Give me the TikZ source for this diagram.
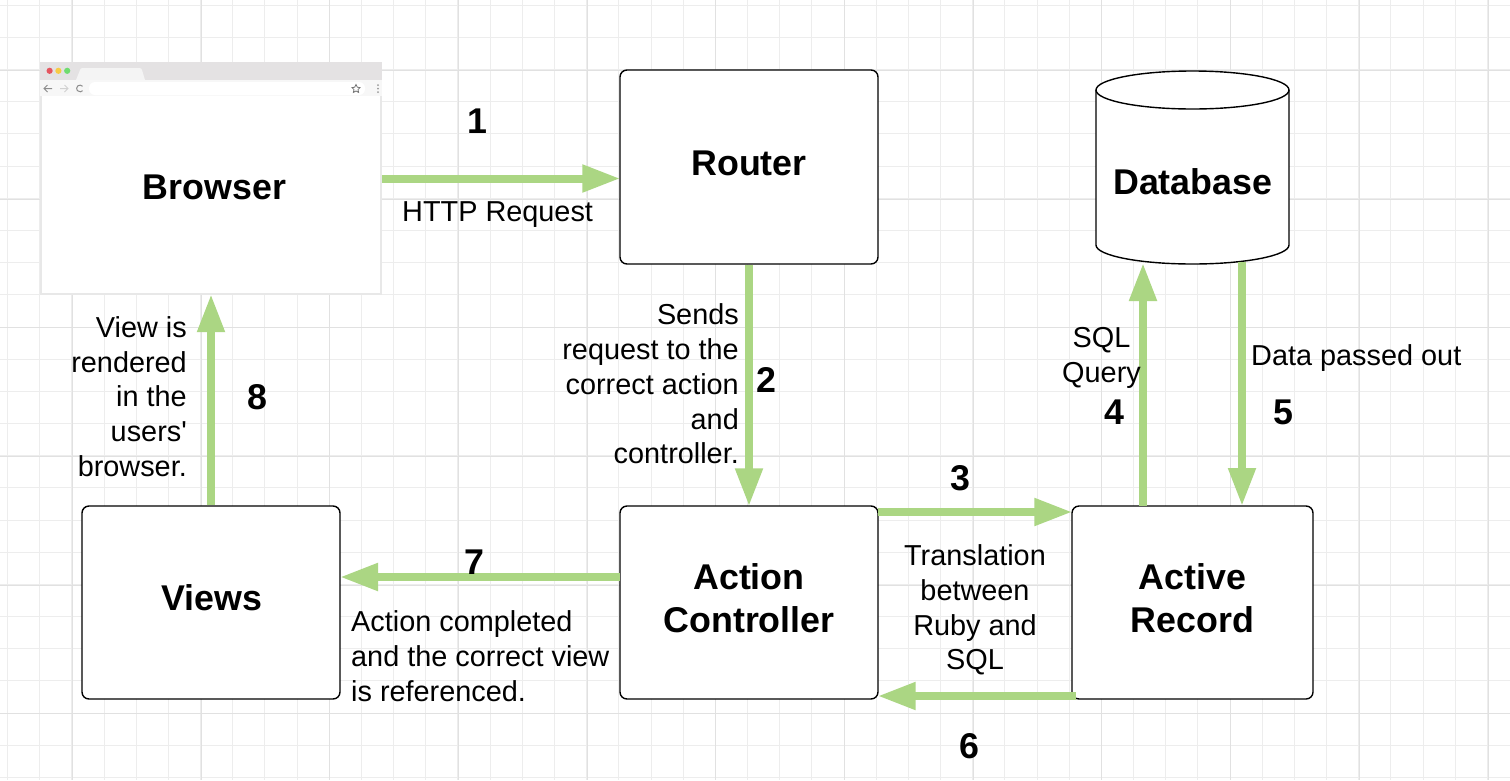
\documentclass[tikz,border=0pt]{standalone}
\usepackage{fontspec}
\setmainfont{Liberation Sans}
\newfontfamily\plainfam{Liberation Sans}
\usetikzlibrary{arrows.meta}
\definecolor{flowgreen}{HTML}{ABD683}
\definecolor{gridminor}{HTML}{EDEDED}
\definecolor{gridmajor}{HTML}{E1E1E1}
\definecolor{barcol}{HTML}{E4E2E3}
\definecolor{tabcol}{HTML}{F4F4F4}
\definecolor{toolcol}{HTML}{F7F7F7}
\definecolor{dotred}{HTML}{E5555F}
\definecolor{dotyel}{HTML}{F7CB45}
\definecolor{dotgrn}{HTML}{6FDC6F}
\tikzset{
  box/.style={draw=black,line width=1.4pt,rounded corners=7pt,fill=white,inner sep=0pt,align=center,
    font=\fontsize{35.8}{43}\selectfont\bfseries},
  flow/.style={draw=flowgreen,line width=8pt,-{Triangle[length=38pt,width=26pt]},shorten >=-1pt},
  num/.style={inner sep=0pt,font=\fontsize{35.8}{43}\selectfont\bfseries},
  lbl/.style={inner sep=0pt,font=\fontsize{28.85}{34.75}\selectfont},
  ghost/.style={inner sep=0pt,font=\fontsize{35.8}{43}\selectfont\bfseries,align=center}
}
\begin{document}
\begin{tikzpicture}[x=1pt,y=-1pt]
\useasboundingbox (0,0) rectangle (1510,780);
\fill[white] (0,0) rectangle (1510,780);
% grid
\foreach \i in {0,...,46}{
  \pgfmathsetmacro{\gx}{7.6+32.17*\i}
  \draw[gridminor,line width=1pt] (\gx,0) -- (\gx,780);
}
\foreach \i in {0,...,24}{
  \pgfmathsetmacro{\gy}{5.3+32.17*\i}
  \draw[gridminor,line width=1pt] (0,\gy) -- (1510,\gy);
}
\foreach \i in {0,...,11}{
  \pgfmathsetmacro{\gx}{72.3+128.7*\i}
  \draw[gridmajor,line width=1pt] (\gx,0) -- (\gx,780);
}
\foreach \i in {0,...,5}{
  \pgfmathsetmacro{\gy}{70.3+128.7*\i}
  \draw[gridmajor,line width=1pt] (0,\gy) -- (1510,\gy);
}
% browser window
\node[draw=none,fill=white,minimum width=342pt,minimum height=233pt,inner sep=0pt] (browser) at (211,178.5) {};
\fill[white] (40,62) rectangle (382,295);
\draw[draw=black!9,line width=2.4pt] (41.2,96) -- (41.2,294) -- (381,294) -- (381,96);
\fill[barcol] (40,62) rectangle (382,80);
\fill[tabcol] (76,80) -- (80,70) .. controls (80.5,68.5) and (81,68) .. (83,68) -- (139,68) .. controls (141,68) and (141.5,68.5) .. (142,70) -- (145,80) -- cycle;
\fill[toolcol] (40,80) rectangle (382,96);
\fill[white,rounded corners=6pt] (89,82) rectangle (365,95);
\fill[dotred] (49.6,70.8) circle (3.1pt);
\fill[dotyel] (58.4,70.8) circle (3.1pt);
\fill[dotgrn] (67.2,70.8) circle (3.1pt);
\draw[black!45,line width=1pt] (52,88.5) -- (44,88.5) (47.5,85) -- (44,88.5) -- (47.5,92);
\draw[black!18,line width=1pt] (60,88.5) -- (68,88.5) (64.5,85) -- (68,88.5) -- (64.5,92);
\draw[black!45,line width=1pt] (82.6,86.3) arc (40:320:3.4pt);
\draw[black!55,line width=0.8pt] (356,84.5) -- (357.3,87.2) -- (360,87.6) -- (358,89.6) -- (358.6,92.4) -- (356,91) -- (353.4,92.4) -- (354,89.6) -- (352,87.6) -- (354.7,87.2) -- cycle;
\fill[black!40] (378,85) circle (1pt) (378,88.5) circle (1pt) (378,92) circle (1pt);
\node[ghost] (browsertext) at (214.5,187) {Browser};
% boxes
\node[box,minimum width=258pt,minimum height=194pt,text depth=8pt] (router) at (749,167) {Router};
\node[box,minimum width=258pt,minimum height=193pt,text depth=8pt] (action) at (749,602.5) {Action\\Controller};
\node[box,minimum width=258pt,minimum height=193pt,text depth=10pt] (views) at (211,602.5) {\hspace*{2pt}Views};
\node[box,minimum width=241pt,minimum height=193pt,text depth=8pt] (record) at (1192.5,602.5) {Active\\Record};
% database
\node[ghost,minimum width=193pt,minimum height=193pt] (db) at (1192.5,167.5) {};
\draw[line width=1.4pt,fill=white] (1096,90) arc (180:0:96.5pt and 19pt) -- (1289,245) arc (0:-180:96.5pt and 19pt) -- cycle;
\draw[line width=1.4pt] (1096,90) arc (180:360:96.5pt and 19pt);
\node[ghost] (dbtext) at (1192.8,182) {Database};
% connector anchors
\coordinate (a3) at (878,512);
\coordinate (ar3) at (record.west |- a3);
\coordinate (ar4) at (1143,506);
\coordinate (db4) at (1143,264);
\coordinate (db5) at (1242,262);
\coordinate (ar5) at (1242,505);
\coordinate (ar6) at (1076,696);
\coordinate (a6) at (action.east |- ar6);
\coordinate (a7) at (620,577);
\coordinate (v7) at (341,577);
% connectors
\draw[flow] (browser.east) -- (router.west |- browser.east);
\draw[flow] (router.south) -- (action.north);
\draw[flow] (a3) -- (ar3);
\draw[flow] (ar4) -- (db4);
\draw[flow] (db5) -- (ar5);
\draw[flow] (ar6) -- (a6);
\draw[flow] (a7) -- (v7);
\draw[flow] (views.north) -- (browser.south);
% numbers
\node[num] (n1) at (477,121) {1};
\node[num] (n2) at (766,380) {2};
\node[num] (n3) at (960,478) {3};
\node[num] (n4) at (1114,412) {4};
\node[num] (n5) at (1283,412) {5};
\node[num] (n6) at (969,746) {6};
\node[num] (n7) at (474,562) {7};
\node[num] (n8) at (257,397) {8};
% labels
\node[lbl,anchor=base west] (l1) at (402,221) {HTTP Request};
\node[lbl,align=right,anchor=east] (l2) at (739,384) {Sends\\request to the\\correct action\\and\\controller.};
\node[lbl,align=center] (l3) at (975,610) {Translation\\between\\Ruby and\\SQL};
\node[lbl,align=center,anchor=east] (l4) at (1141,358) {SQL\\Query};
\node[lbl,anchor=base west] (l5) at (1251,365) {Data passed out};
\node[lbl,align=left,anchor=west] (l7) at (351,656) {Action completed\\and the correct view\\is referenced.};
\node[lbl,align=right,anchor=east] (l8) at (187,396.5) {View is\\rendered\\in the\\users{\plainfam '}\\browser.};
\end{tikzpicture}
\end{document}
